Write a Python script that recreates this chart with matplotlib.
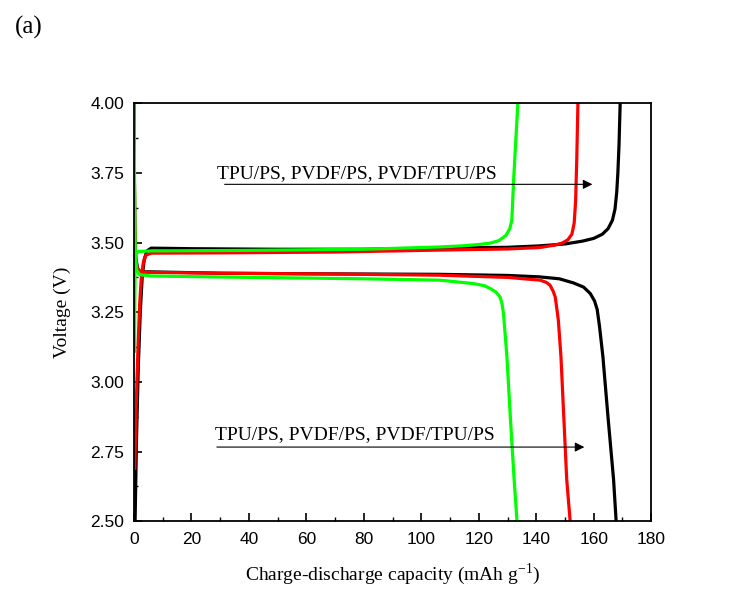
import matplotlib
matplotlib.use('Agg')
import matplotlib.pyplot as plt
from matplotlib.ticker import MultipleLocator, FormatStrFormatter

plt.rcParams['mathtext.fontset'] = 'custom'
plt.rcParams['mathtext.rm'] = 'Liberation Serif'

# charge curves (capacity, voltage)
black_chg_x = [0.4, 0.9, 1.5, 2.2, 2.9, 3.6, 4.5, 6, 20, 50, 80, 106, 130, 141, 150, 156, 160, 163, 165, 166.5, 167.4, 168, 168.4, 168.8, 169.2]
black_chg_y = [2.50, 2.80, 3.05, 3.25, 3.38, 3.44, 3.47, 3.48, 3.478, 3.476, 3.476, 3.48, 3.483, 3.488, 3.495, 3.505, 3.515, 3.53, 3.55, 3.58, 3.62, 3.68, 3.75, 3.85, 4.00]
red_chg_x = [0.3, 0.8, 1.4, 2.0, 2.6, 3.3, 4.2, 6, 30, 70, 106, 130, 141, 146, 149, 151, 152.4, 153.2, 153.7, 154.1, 154.5]
red_chg_y = [2.69, 2.92, 3.12, 3.28, 3.38, 3.43, 3.455, 3.462, 3.463, 3.466, 3.473, 3.477, 3.482, 3.49, 3.498, 3.51, 3.53, 3.57, 3.65, 3.80, 4.00]
green_chg_x = [0.2, 0.3, 0.45, 0.8, 1.5, 6, 40, 80, 106, 114, 120, 124, 127, 129.5, 130.8, 131.5, 132.1, 132.8, 133.6]
green_chg_y = [3.11, 3.30, 3.42, 3.46, 3.468, 3.47, 3.472, 3.476, 3.484, 3.488, 3.493, 3.498, 3.507, 3.526, 3.55, 3.58, 3.72, 3.85, 4.00]

# discharge curves
black_dis_x = [0.0, 0.1, 0.3, 0.6, 1.2, 2.0, 5, 30, 60, 106, 130, 141, 148, 153, 156.5, 158.8, 160.3, 161.2, 162, 163.2, 165, 166.9, 167.8]
black_dis_y = [4.00, 3.80, 3.55, 3.45, 3.41, 3.395, 3.395, 3.39, 3.388, 3.386, 3.382, 3.377, 3.37, 3.355, 3.34, 3.317, 3.29, 3.26, 3.20, 3.09, 2.87, 2.65, 2.50]
red_dis_x = [0.0, 0.1, 0.3, 0.6, 1.2, 2.5, 5, 30, 70, 106, 130, 141.4, 143.5, 144.8, 145.9, 146.6, 147.2, 147.7, 148.6, 149.6, 150.6, 151.8]
red_dis_y = [4.00, 3.80, 3.55, 3.44, 3.405, 3.395, 3.393, 3.39, 3.387, 3.383, 3.375, 3.365, 3.357, 3.347, 3.325, 3.305, 3.26, 3.22, 3.09, 2.87, 2.65, 2.50]
green_dis_x = [0.0, 0.15, 0.3, 0.5, 1.0, 2.0, 6, 40, 80, 106.5, 118, 122, 124, 126, 127.4, 128.1, 128.6, 129.8, 131, 132.3, 133.3]
green_dis_y = [4.00, 3.80, 3.60, 3.45, 3.40, 3.385, 3.38, 3.375, 3.37, 3.365, 3.353, 3.345, 3.335, 3.322, 3.305, 3.28, 3.245, 3.09, 2.87, 2.65, 2.50]

label_text = 'TPU/PS, PVDF/PS, PVDF/TPU/PS'

fig = plt.figure(figsize=(7.4, 6.11), dpi=100)
ax = fig.add_axes([0.181, 0.147, 0.699, 0.684])

lw = 2.3
ax.plot(black_chg_x, black_chg_y, color='black', lw=lw)
ax.plot(black_dis_x, black_dis_y, color='black', lw=lw)
ax.plot(red_chg_x, red_chg_y, color='#ff0000', lw=lw)
ax.plot(red_dis_x, red_dis_y, color='#ff0000', lw=lw)
ax.plot(green_chg_x, green_chg_y, color='#00ff00', lw=lw)
ax.plot(green_dis_x, green_dis_y, color='#00ff00', lw=lw)

# annotations with arrows
ax.annotate('', xy=(160.5, 3.709), xytext=(30.6, 3.709),
            arrowprops=dict(arrowstyle='-|>', color='black', lw=0.8, mutation_scale=14))
ax.text(28.9, 3.731, label_text, fontsize=14, family='Liberation Serif')
ax.annotate('', xy=(157.7, 2.766), xytext=(27.9, 2.766),
            arrowprops=dict(arrowstyle='-|>', color='black', lw=0.8, mutation_scale=14))
ax.text(28.2, 2.794, label_text, fontsize=14, family='Liberation Serif')

ax.set_xlim(0, 180)
ax.set_ylim(2.5, 4.0)
ax.xaxis.set_major_locator(MultipleLocator(20))
ax.xaxis.set_minor_locator(MultipleLocator(10))
ax.yaxis.set_major_locator(MultipleLocator(0.25))
ax.yaxis.set_minor_locator(MultipleLocator(0.125))
ax.yaxis.set_major_formatter(FormatStrFormatter('%.2f'))
ax.tick_params(which='both', direction='in', top=False, right=False)
ax.tick_params(which='major', length=6, width=1.2, labelsize=12.5)
ax.tick_params(axis='x', which='major', pad=8)
ax.tick_params(axis='y', which='major', pad=7)
ax.tick_params(which='minor', length=3, width=1.0)
for lab in ax.get_xticklabels() + ax.get_yticklabels():
    lab.set_family('Liberation Sans')
for s in ax.spines.values():
    s.set_linewidth(1.3)

ax.set_xlabel('Charge-discharge capacity (mAh g$^{\\mathregular{-1}}$)', fontsize=14,
              family='Liberation Serif', labelpad=10)
ax.set_ylabel('Voltage (V)', fontsize=14, family='Liberation Serif', labelpad=14)

fig.text(0.02, 0.945, '(a)', fontsize=18, family='Liberation Serif')

fig.savefig('out.png', dpi=100)
